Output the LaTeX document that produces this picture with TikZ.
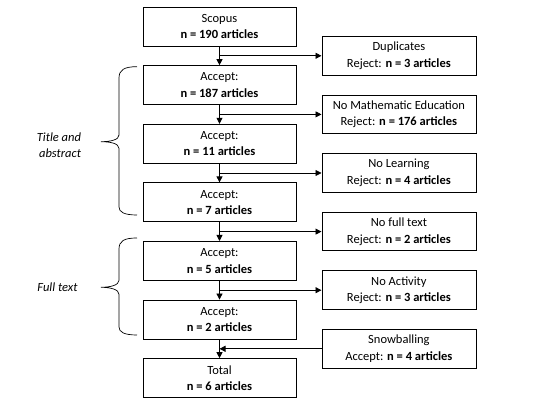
\documentclass[tikz,border=0pt]{standalone}
\usepackage{fontspec}
\setmainfont{Carlito}
\usepackage{tikz}
\usetikzlibrary{arrows.meta, positioning, calc}

\begin{document}
\begin{tikzpicture}[
    x=1pt, y=1pt,
    node distance=18.8pt,
    mainbox/.style={rectangle, draw, line width=0.8pt, minimum width=153pt, minimum height=39pt, inner sep=2pt, align=center, font=\fontsize{12.5}{16.5}\selectfont},
    sidebox/.style={rectangle, draw, line width=0.8pt, minimum width=154pt, minimum height=38.6pt, inner sep=2pt, align=center, font=\fontsize{12.5}{16.5}\selectfont},
    arrow/.style={-{Triangle[length=6pt, width=6pt]}, line width=0.8pt},
    phase/.style={align=right, anchor=east, font=\itshape\fontsize{12.5}{16.5}\selectfont},
    bracket/.style={line width=0.7pt}
]
    \useasboundingbox (0,0) rectangle (543,403);

    % main flow
    \node[mainbox] (p1) at (219.5,376.5) {Scopus\\\textbf{n = 190 articles}};
    \node[mainbox, below=of p1] (p2) {Accept:\\\textbf{n = 187 articles}};
    \node[mainbox, below=of p2] (p3) {Accept:\\\textbf{n = 11 articles}};
    \node[mainbox, below=of p3] (p4) {Accept:\\\textbf{n = 7 articles}};
    \node[mainbox, below=of p4] (p5) {Accept:\\\textbf{n = 5 articles}};
    \node[mainbox, below=of p5] (p6) {Accept:\\\textbf{n = 2 articles}};
    \node[mainbox, below=of p6] (p7) {Total\\\textbf{n = 6 articles}};

    % branch points
    \coordinate (b1) at ($(p1.south)!0.5!(p2.north)$);
    \coordinate (b2) at ($(p2.south)!0.5!(p3.north)$);
    \coordinate (b3) at ($(p3.south)!0.5!(p4.north)$);
    \coordinate (b4) at ($(p4.south)!0.5!(p5.north)$);
    \coordinate (b5) at ($(p5.south)!0.5!(p6.north)$);
    \coordinate (b6) at ($(p6.south)!0.5!(p7.north)$);

    % side boxes
    \node[sidebox, anchor=west] (r1) at ([xshift=102pt]b1) {Duplicates\\Reject: \textbf{n = 3 articles}};
    \node[sidebox, anchor=west] (r2) at ([xshift=102pt]b2) {No Mathematic Education\\Reject: \textbf{n = 176 articles}};
    \node[sidebox, anchor=west] (r3) at ([xshift=102pt]b3) {No Learning\\Reject: \textbf{n = 4 articles}};
    \node[sidebox, anchor=west] (r4) at ([xshift=102pt]b4) {No full text\\Reject: \textbf{n = 2 articles}};
    \node[sidebox, anchor=west] (r5) at ([xshift=102pt]b5) {No Activity\\Reject: \textbf{n = 3 articles}};
    \node[sidebox, anchor=west] (r6) at ([xshift=102pt]b6) {Snowballing\\Accept: \textbf{n = 4 articles}};

    \draw[arrow] (p1) -- (p2);
    \draw[arrow] (p2) -- (p3);
    \draw[arrow] (p3) -- (p4);
    \draw[arrow] (p4) -- (p5);
    \draw[arrow] (p5) -- (p6);
    \draw[arrow] (p6) -- (p7);

    \draw[arrow] (b1) -- (r1);
    \draw[arrow] (b2) -- (r2);
    \draw[arrow] (b3) -- (r3);
    \draw[arrow] (b4) -- (r4);
    \draw[arrow] (b5) -- (r5);
    \draw[arrow] (r6) -- (b6);

    % screening phases
    \node[phase] (ta) at (84.5,258) {Title and\\abstract};
    \node[phase] (ft) at (81,115.5) {Full text};

    \draw[bracket] (137,336.3) .. controls (124,336.3) and (119,333) .. (119,325)
        -- (119,268) .. controls (119,263) and (110,261.3) .. (101,261.3)
        .. controls (110,261.3) and (119,259.6) .. (119,254.6)
        -- (119,196) .. controls (119,191) and (124,188) .. (137,188);
    \draw[bracket] (137,165) .. controls (124,165) and (119,162) .. (119,154)
        -- (119,122.7) .. controls (119,117.7) and (110,115.7) .. (101,115.7)
        .. controls (110,115.7) and (119,113.7) .. (119,108.7)
        -- (119,76) .. controls (119,71) and (124,68) .. (137,68);
\end{tikzpicture}
\end{document}
